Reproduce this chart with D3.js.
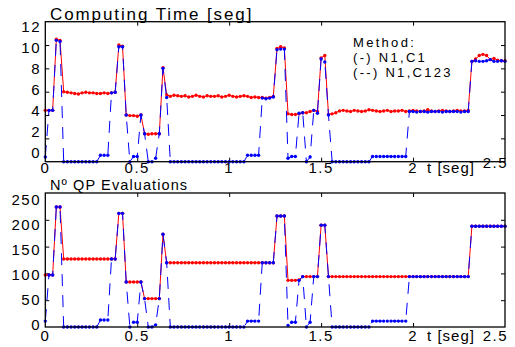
<!DOCTYPE html>
<html>
<head>
<meta charset="utf-8">
<script src="https://cdn.jsdelivr.net/npm/d3@7"></script>
<style>
body{margin:0;background:#fff}
text{font-family:Arial,"Liberation Sans",sans-serif;fill:#000}
</style>
</head>
<body>
<svg width="515" height="347"></svg>
<script>
/* sampled every 0.02 s from 0 to 2.5 s */
const sampleStep = 0.02;

// computing time [seg], method N1,C1 (solid red)
const timeC1 = [4.4,4.4,4.4,10.5,10.4,
  6.0,5.95,5.9,5.85,5.8,5.9,5.95,5.9,5.9,5.85,5.85,5.9,5.85,5.9,5.95,
  10.0,9.9,
  4.0,3.95,3.95,3.9,4.0,
  2.4,2.35,2.4,2.4,2.4,
  8.05,
  5.75,5.6,5.7,5.65,5.6,5.65,5.55,5.6,5.7,5.6,5.55,5.65,5.6,5.6,5.65,5.55,5.6,5.7,5.6,5.55,5.6,5.65,5.6,5.5,5.55,5.5,
  5.5,5.45,5.5,5.6,
  9.7,9.85,9.75,
  4.1,4.05,4.05,4.1,4.2,4.2,4.3,4.4,4.3,
  8.9,9.1,
  4.05,4.1,4.2,4.35,4.4,4.35,4.3,4.4,4.35,4.3,4.35,4.45,4.4,4.35,4.3,4.35,4.4,4.3,4.35,4.35,
  4.4,4.3,4.35,4.4,4.35,4.3,4.35,4.45,4.35,4.3,4.35,4.4,4.35,4.3,4.35,4.4,4.35,4.35,4.4,
  8.6,8.8,9.1,9.2,9.1,8.75,8.85,8.7,8.65,8.65];

// computing time [seg], method N1,C123 (dashed blue)
const timeC123 = [0.4,4.4,4.4,10.4,10.3,
  0,0,0,0,0,0,0,0,0,0,
  0.55,0.55,0.55,
  5.9,5.95,
  9.85,9.85,
  4.0,0,0.45,0.45,4.0,
  2.4,0,0,0.3,2.4,
  8.0,5.5,
  0,0,0,0,0,0,0,0,0,0,0,0,0,0,0,0,0,0,0,0,0,
  0.55,0.55,0.55,0.55,
  5.45,5.4,5.45,5.55,
  9.6,9.65,9.65,
  0.3,0.45,0.45,4.15,4.2,0,0.4,4.4,4.15,
  8.8,8.55,4.0,
  0,0,0,0,0,0,0,0,0,0,0,
  0.45,0.45,0.45,0.45,0.45,0.45,0.45,0.45,0.45,0.45,
  4.3,4.3,4.25,4.3,4.3,4.25,4.3,4.3,4.3,4.25,4.3,4.3,4.3,4.3,4.25,4.3,4.3,
  8.6,8.65,8.6,8.6,8.65,8.75,8.6,8.6,8.65,8.6];

// number of QP evaluations, N1,C1
const qpC1 = [97,97,97,224,224,
  127,127,127,127,127,127,127,127,127,127,127,127,127,127,127,
  212,212,
  84,84,84,84,84,
  53,53,53,53,53,
  173,
  120,120,120,120,120,120,120,120,120,120,120,120,120,120,120,
  120,120,120,120,120,120,120,120,120,120,120,120,120,120,120,
  207,207,207,
  87,87,87,88,
  94,94,94,94,94,
  190,190,
  94,94,94,94,94,94,94,94,94,94,94,94,94,94,94,94,94,94,94,94,
  94,94,94,94,94,94,94,94,94,94,94,94,94,94,94,94,94,94,94,
  188,188,188,188,188,188,188,188,188,188];

// number of QP evaluations, N1,C123
const qpC123 = [11,97,97,224,224,
  0,0,0,0,0,0,0,0,0,0,
  13,13,13,
  127,127,
  212,212,
  84,0,9,9,84,
  53,0,0,4,53,
  173,120,
  0,0,0,0,0,0,0,0,0,0,0,0,0,0,0,0,0,0,0,0,0,
  11,11,11,11,
  120,120,120,120,
  207,207,207,
  3,9,9,87,94,0,9,94,94,
  190,190,94,
  0,0,0,0,0,0,0,0,0,0,0,
  11,11,11,11,11,11,11,11,11,11,
  94,94,94,94,94,94,94,94,94,94,94,94,94,94,94,94,94,
  188,188,188,188,188,188,188,188,188,188];

const xTickValues = [0, 0.5, 1, 1.5, 2, 2.5];
const xTickLabels = ['0', '0.5', '1', '1.5', '2', '2.5'];
const timeTicks = [0, 2, 4, 6, 8, 10, 12];
const qpTicks = [0, 50, 100, 150, 200, 250];
const legendLines = ['Method:', '(-) N1,C1', '(--) N1,C123'];

let svg = d3.select('svg');
let x = d3.scaleLinear().domain([0, 2.5]).range([45.3, 505]);

let panels = [
  {title: 'Computing Time [seg]', titleY: 20, titleSize: 17, titleSpacing: 1.9,
   top: 21.7, bottom: 161.7, domain: [0, 12], ticks: timeTicks,
   labelRange: [153, 26.7], red: timeC1, blue: timeC123, xLabelY: 172.5, lastY: 168},
  {title: 'Nº QP Evaluations', titleY: 190, titleSize: 14.5, titleSpacing: 1.1,
   top: 193, bottom: 327, domain: [0, 250], ticks: qpTicks,
   labelRange: [325, 200], red: qpC1, blue: qpC123, xLabelY: 341, lastY: 341}
];

panels.forEach(p => {
  let y = d3.scaleLinear().domain(p.domain).range([p.bottom, p.top]);
  let yLab = d3.scaleLinear().domain(p.domain).range(p.labelRange);
  let g = svg.append('g');

  // inside ticks on all four sides
  let inner = xTickValues.slice(1, -1);
  g.append('g').attr('transform', `translate(0,${p.bottom})`)
    .call(d3.axisBottom(x).tickValues(inner).tickSize(-4).tickFormat(''));
  g.append('g').attr('transform', `translate(0,${p.top})`)
    .call(d3.axisTop(x).tickValues(inner).tickSize(-4).tickFormat(''));
  g.append('g').attr('transform', `translate(${x.range()[0]},0)`)
    .call(d3.axisLeft(y).tickValues(p.ticks.slice(1, -1)).tickSize(-4).tickFormat(''));
  g.append('g').attr('transform', `translate(${x.range()[1]},0)`)
    .call(d3.axisRight(y).tickValues(p.ticks.slice(1, -1)).tickSize(-4).tickFormat(''));
  g.selectAll('.domain').remove();
  g.selectAll('.tick line').attr('stroke', '#000').attr('stroke-width', 1);

  // y labels
  g.selectAll('.ylab').data(p.ticks).enter().append('text')
    .attr('x', 41).attr('y', d => yLab(d)).attr('dy', '0.35em')
    .attr('text-anchor', 'end').attr('font-size', 15).attr('letter-spacing', 1.5)
    .text(d => d);

  // x labels
  g.selectAll('.xlab').data(xTickValues).enter().append('text')
    .attr('x', (d, i) => i == xTickValues.length - 1 ? x(d) + 3 : x(d))
    .attr('y', (d, i) => i == xTickValues.length - 1 ? p.lastY : p.xLabelY)
    .attr('text-anchor', (d, i) => i == xTickValues.length - 1 ? 'end' : 'middle')
    .attr('font-size', 15).attr('letter-spacing', 1.5)
    .text((d, i) => xTickLabels[i]);
  g.append('text').attr('x', x(2) + 14).attr('y', p.xLabelY)
    .attr('font-size', 15).attr('letter-spacing', 1)
    .text('t [seg]');

  g.append('text').attr('x', 50).attr('y', p.titleY)
    .attr('font-size', p.titleSize).attr('letter-spacing', p.titleSpacing)
    .text(p.title);

  let line = d3.line().x((d, i) => x(i * sampleStep)).y(d => y(d));

  // N1,C1 solid red
  g.append('path').datum(p.red).attr('d', line)
    .attr('fill', 'none').attr('stroke', '#ff0000').attr('stroke-width', 1);
  g.selectAll('.rdot').data(p.red).enter().append('circle')
    .attr('cx', (d, i) => x(i * sampleStep)).attr('cy', d => y(d))
    .attr('r', 1.7).attr('fill', '#ff0000');

  // N1,C123 dashed blue
  g.append('path').datum(p.blue).attr('d', line)
    .attr('fill', 'none').attr('stroke', '#0000ff').attr('stroke-width', 1)
    .attr('stroke-dasharray', '12,9');
  g.selectAll('.bdot').data(p.blue).enter().append('circle')
    .attr('cx', (d, i) => x(i * sampleStep)).attr('cy', d => y(d))
    .attr('r', 1.7).attr('fill', '#0000ff');

  g.append('rect').attr('x', x.range()[0]).attr('y', p.top)
    .attr('width', x.range()[1] - x.range()[0]).attr('height', p.bottom - p.top)
    .attr('fill', 'none').attr('stroke', '#000').attr('stroke-width', 1.3);
});

svg.append('g').selectAll('text').data(legendLines).enter().append('text')
  .attr('x', 353).attr('y', (d, i) => 47 + i * 15)
  .attr('font-size', 13).attr('letter-spacing', 2.3)
  .text(d => d);
</script>
</body>
</html>
